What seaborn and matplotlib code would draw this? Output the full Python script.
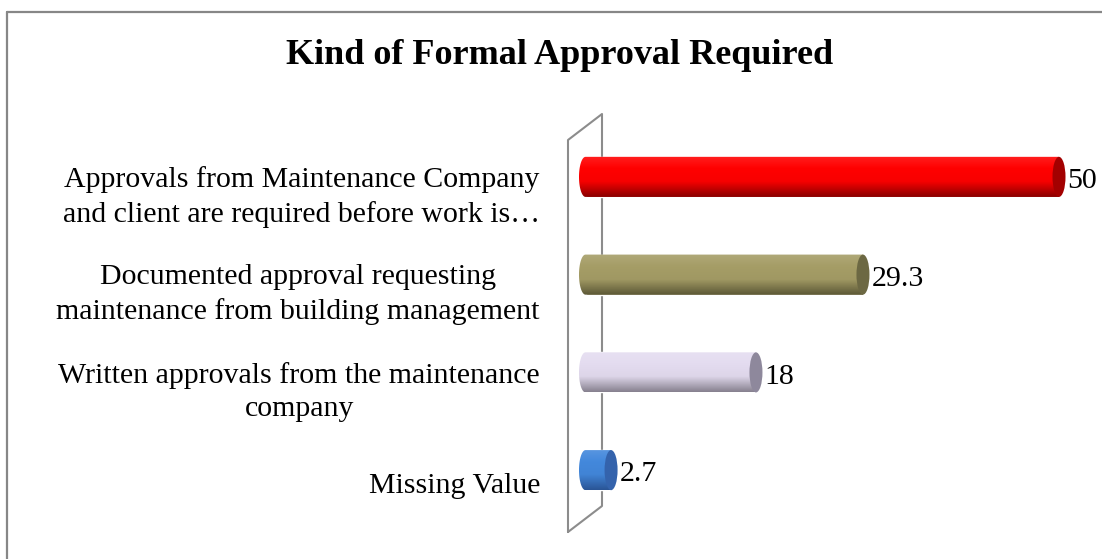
import numpy as np
import pandas as pd
import seaborn as sns
import matplotlib.pyplot as plt
from matplotlib.colors import to_rgb
from matplotlib.patches import Ellipse, Polygon
from matplotlib.lines import Line2D
from matplotlib.transforms import ScaledTranslation

# ---- data ----
categories = [
    "Approvals from Maintenance Company\nand client are required before work is…",
    "Documented approval requesting\nmaintenance from building management",
    "Written approvals from the maintenance\ncompany",
    "Missing Value",
]
values = [50, 29.3, 18, 2.7]
bar_colors = ["#ff0000", "#a59d66", "#e4dcf0", "#4388dc"]
cap_colors = ["#a30000", "#6c6843", "#8e889c", "#3463ac"]
shade_colors = ["#8a0000", "#5c5836", "#87818f", "#2a5596"]

df = pd.DataFrame({"label": categories, "value": values})

sns.set_style("white")
plt.rcParams["font.family"] = ["Liberation Serif", "DejaVu Serif"]
plt.rcParams["text.color"] = "black"

W, H = 1102, 559
fig = plt.figure(figsize=(W / 100, H / 100), dpi=100)
px_unit = 9.47                     # pixels per data unit
xmin, xmax = -1.5, 52
ax_zero, ax_top, ax_h = 585.5, 128, 391
ax_left = ax_zero + xmin * px_unit
ax_w = (xmax - xmin) * px_unit
ax = fig.add_axes([ax_left / W, 1 - (ax_top + ax_h) / H, ax_w / W, ax_h / H])

sns.barplot(data=df, x="value", y="label", hue="label", palette=bar_colors,
            legend=False, orient="h", width=0.41, ax=ax)
ax.set_xticks([])
ax.set_xlabel("")
ax.set_ylabel("")
sns.despine(ax=ax, left=True, bottom=True)

# cylinder look: gradient body, rounded front, dark end cap
cap_a = 6.5 / px_unit
for i, bar in enumerate(ax.patches):
    bar.set_zorder(3)
    x0, w = bar.get_x(), bar.get_width()
    b = bar.get_height() / 2
    yc = bar.get_y() + b
    x1 = x0 + w
    t = np.linspace(np.pi / 2, 3 * np.pi / 2, 40)
    outline = np.column_stack([x0 + cap_a * np.cos(t), yc + b * np.sin(t)])
    outline = np.vstack([outline, [[x1, yc - b], [x1, yc + b]]])
    poly = Polygon(outline, closed=True, facecolor="none", edgecolor="none",
                   transform=ax.transData)
    ax.add_patch(poly)

    base = np.array(to_rgb(bar_colors[i]))
    dark = np.array(to_rgb(shade_colors[i]))
    light = base + (1 - base) * 0.12
    stops = [0.0, 0.3, 0.62, 1.0]
    cols = [light, base, base * 0.97, dark]
    pos = np.linspace(0, 1, 64)
    grad = np.stack([np.interp(pos, stops, [c[k] for c in cols]) for k in range(3)], axis=1)
    img = ax.imshow(grad[:, None, :], extent=(x0 - cap_a, x1, yc + b, yc - b),
                    origin="upper", aspect="auto", interpolation="bilinear", zorder=4)
    img.set_clip_path(poly)

    ax.add_patch(Ellipse((x1, yc), 2 * cap_a, 2 * b, facecolor=cap_colors[i],
                         edgecolor="none", zorder=5))
    ax.annotate(f"{values[i]:g}", xy=(x1, yc), xytext=(6.2, -3),
                textcoords="offset points", va="center", ha="left",
                fontsize=21.5, color="black", zorder=6, annotation_clip=False)

ax.set_xlim(xmin, xmax)
ax.set_ylim(len(categories) - 0.5, -0.5)

# category labels
ax.tick_params(axis="y", length=0, pad=32.8 + xmin * px_unit / 1.389,
               labelsize=21.5, labelcolor="black")
shift = ScaledTranslation(0, -0.13, fig.dpi_scale_trans)
for lbl in ax.get_yticklabels():
    lbl.set_multialignment("center")
    lbl.set_linespacing(1.38)
    lbl.set_transform(lbl.get_transform() + shift)

# back wall of the 3d plot
wall_x = [568, 568, 602, 602, 568]
wall_y = [532, 140, 114, 506, 532]
ax.add_line(Line2D([v / W for v in wall_x], [1 - v / H for v in wall_y],
                   transform=fig.transFigure, color="#8c8c8c", lw=1.5,
                   zorder=2, clip_on=False))

# chart area border (top and left only visible)
fig.add_artist(Line2D([7 / W, 1], [1 - 12 / H, 1 - 12 / H], color="#878787", lw=1.6))
fig.add_artist(Line2D([7 / W, 7 / W], [0, 1 - 12 / H], color="#878787", lw=1.6))

fig.text(560 / W, 1 - 55 / H, "Kind of Formal Approval Required", ha="center",
         va="center", fontsize=26, fontweight="bold", color="black")

fig.savefig("out.png", dpi=100)
